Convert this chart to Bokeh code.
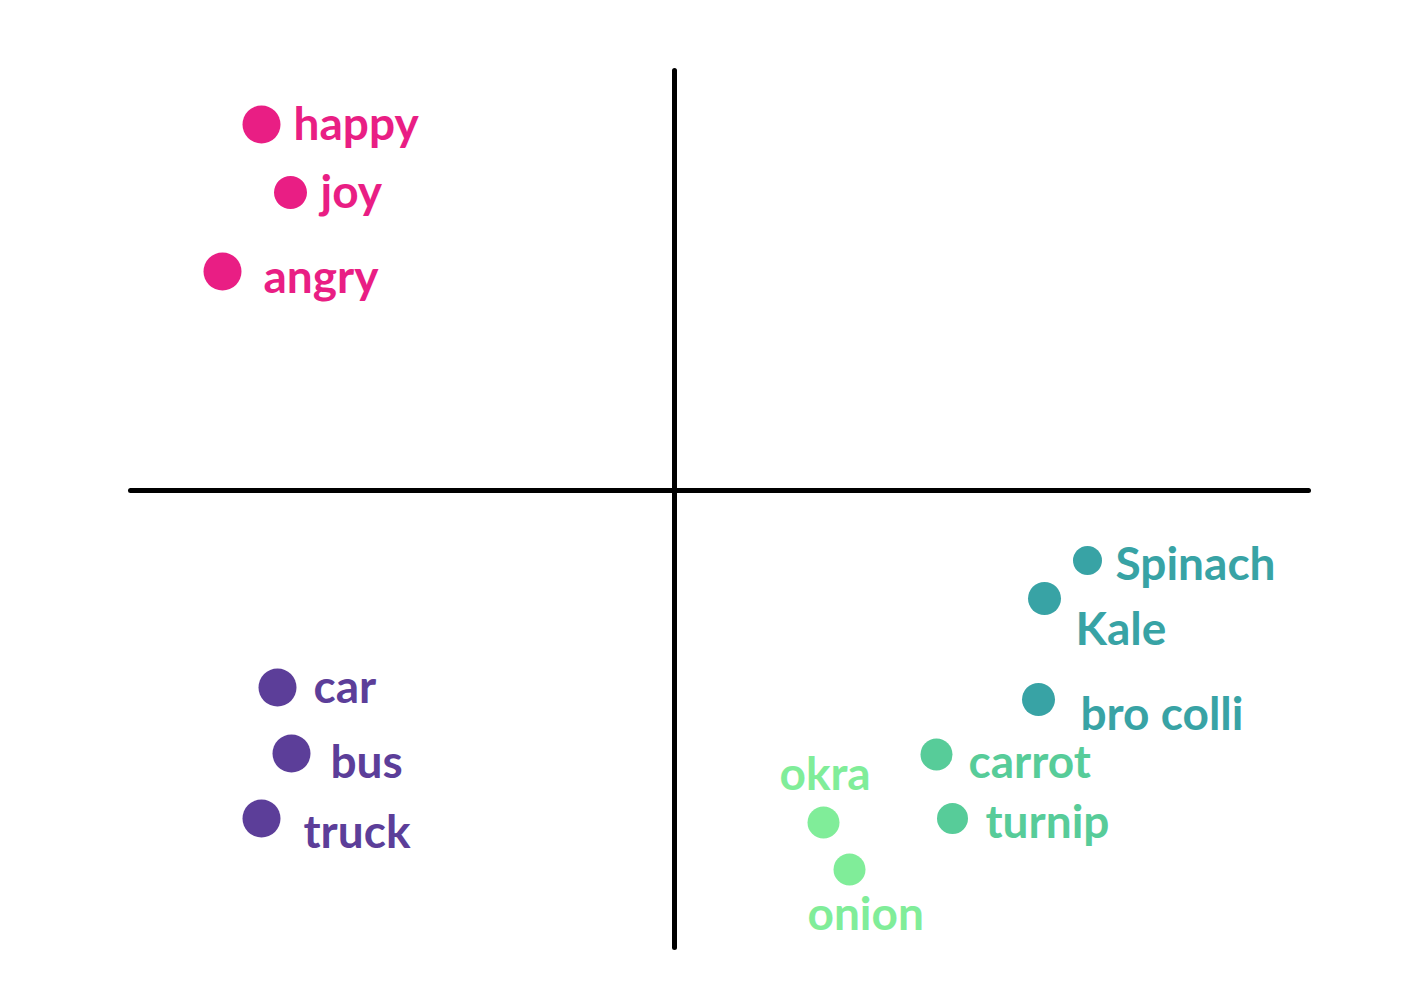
from bokeh.plotting import figure
from bokeh.models import ColumnDataSource, Range1d
from bokeh.core.properties import value
from bokeh.embed import file_html
from bokeh.resources import INLINE

# Word-embedding style positions (origin at the cross of the two axes)
words = ["happy", "joy", "angry", "car", "bus", "truck",
         "Spinach", "Kale", "bro colli", "carrot", "turnip", "okra", "onion"]
xs = [-413, -384, -452, -397, -383, -413, 413, 370, 364, 262, 278, 149, 175]
ys = [366, 298, 219, -197, -263, -328, -70, -108, -209, -264, -328, -332, -379]
groups = ["emotion", "emotion", "emotion", "vehicle", "vehicle", "vehicle",
          "greens", "greens", "greens", "roots", "roots", "light", "light"]

# axis extents
axis_x = [-544, 634]
axis_y = [-457, 420]

# styles
palette = {"emotion": "#E91E84", "vehicle": "#5C3E99", "greens": "#38A3A5",
           "roots": "#57CC99", "light": "#80ED99"}
dot_size = [38, 33, 38, 38, 38, 38, 29, 33, 33, 32, 31, 32, 32]
lab_dx = [32, 30, 41, 36, 39, 42, 28, 31, 42, 32, 33, -44, -42]
lab_dy = [d - 18 for d in [16, 16, 22, 16, 25, 30, 20, 47, 31, 24, 20, -32, 61]]

src = ColumnDataSource(dict(
    x=xs, y=ys, word=words,
    color=[palette[g] for g in groups],
    size=dot_size, dx=lab_dx, dy=lab_dy,
))

p = figure(width=1386, height=984, output_backend="svg", toolbar_location=None,
           x_range=Range1d(-674, 712), y_range=Range1d(-494, 490),
           min_border=0)
p.axis.visible = False
p.grid.visible = False
p.outline_line_color = None
p.background_fill_color = "white"
p.border_fill_color = "white"

# axes cross
p.segment(x0=[axis_x[0], 0], y0=[0, axis_y[0]], x1=[axis_x[1], 0], y1=[0, axis_y[1]],
          line_color="black", line_width=5, line_cap="round")

p.scatter(x="x", y="y", size="size", fill_color="color", line_color=None, source=src)

p.text(x="x", y="y", text="word", x_offset="dx", y_offset="dy", source=src,
       text_color="color", text_font=value("Lato"), text_font_size="46px",
       text_font_style="bold", text_baseline="alphabetic", text_align="left")

open("out.html", "w").write(file_html(p, INLINE))
